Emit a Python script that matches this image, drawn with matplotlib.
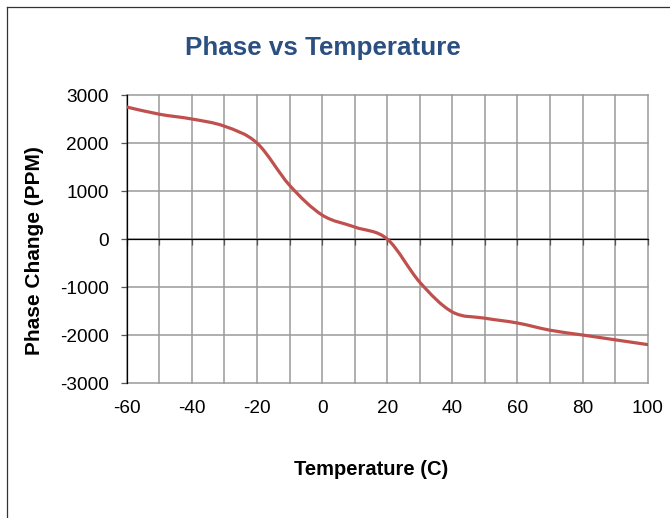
import matplotlib
matplotlib.use("Agg")
import matplotlib.pyplot as plt
from matplotlib.path import Path
from matplotlib.patches import PathPatch
from matplotlib.lines import Line2D
import numpy as np

plt.rcParams['font.family'] = ['Liberation Sans', 'DejaVu Sans']

temps = [-60, -50, -40, -30, -20, -10, 0, 10, 20, 30, 40, 50, 60, 70, 80, 90, 100]
phase = [2750, 2600, 2500, 2350, 2000, 1120, 500, 250, 0, -900, -1520, -1650, -1750, -1900, -2000, -2100, -2200]
x_ticks = [-60, -40, -20, 0, 20, 40, 60, 80, 100]
y_ticks = [-3000, -2000, -1000, 0, 1000, 2000, 3000]
title = "Phase vs Temperature"
xlabel = "Temperature (C)"
ylabel = "Phase Change (PPM)"

W, H = 670, 518
fig = plt.figure(figsize=(W / 100, H / 100), dpi=100)
fig.patch.set_facecolor('white')

# outer frame (top and left visible)
fig.add_artist(Line2D([7 / W, 1.0], [1 - 7 / H, 1 - 7 / H], color='#333333', lw=0.9, transform=fig.transFigure))
fig.add_artist(Line2D([7 / W, 7 / W], [0, 1 - 7 / H], color='#333333', lw=0.9, transform=fig.transFigure))

left, right = 126.7 / W, 647.7 / W
bottom, top = (H - 383) / H, (H - 95) / H
ax = fig.add_axes([left, bottom, right - left, top - bottom])
ax.set_xlim(-60, 100)
ax.set_ylim(-3000, 3000)

# gridlines
grid_c = '#9a9a9a'
for xv in range(-60, 101, 10):
    ax.axvline(xv, color=grid_c, lw=1.1, zorder=1, clip_on=False)
for yv in y_ticks:
    ax.axhline(yv, color=grid_c, lw=1.1, zorder=1, clip_on=False)

# spines
for s in ['top', 'right']:
    ax.spines[s].set_visible(False)
ax.spines['left'].set_color('black')
ax.spines['left'].set_linewidth(0.9)
ax.spines['bottom'].set_position(('data', 0))
ax.spines['bottom'].set_color('black')
ax.spines['bottom'].set_linewidth(0.9)
ax.spines['bottom'].set_zorder(3)

ax.set_xticks(list(range(-60, 101, 10)))
ax.tick_params(axis='x', which='both', direction='out', length=4, width=0.9, color='#555555',
               labelbottom=False)
ax.set_yticks(y_ticks)
ax.set_yticklabels([str(v) for v in y_ticks])
ax.tick_params(axis='y', direction='out', length=4.3, width=0.9, color='#555555', pad=8.5,
               labelsize=13.7)

# x tick labels at bottom of plot area
sec = ax.secondary_xaxis(0)
sec.set_xticks(x_ticks)
sec.set_xticklabels([str(v) for v in x_ticks])
sec.tick_params(length=0, pad=12, labelsize=13.7)
sec.spines['bottom'].set_visible(False)

# smoothed line (Catmull-Rom / Excel-like bezier through data points)
pts = np.column_stack([temps, phase]).astype(float)
n = len(pts)
verts = [tuple(pts[0])]
codes = [Path.MOVETO]
for i in range(n - 1):
    p0 = pts[i - 1] if i > 0 else pts[i]
    p1 = pts[i]
    p2 = pts[i + 1]
    p3 = pts[i + 2] if i + 2 < n else pts[i + 1]
    c1 = p1 + (p2 - p0) / 6.0
    c2 = p2 - (p3 - p1) / 6.0
    verts += [tuple(c1), tuple(c2), tuple(p2)]
    codes += [Path.CURVE4] * 3
path = Path(verts, codes)
ax.add_patch(PathPatch(path, facecolor='none', edgecolor='#C0504D', lw=2.3, zorder=4,
                       capstyle='round', joinstyle='round'))

fig.text(322.5 / W, 1 - 55 / H, title, ha='center', va='baseline', fontsize=18.7,
         fontweight='bold', color='#2B4F81')
fig.text(371 / W, 43 / H, xlabel, ha='center', va='baseline', fontsize=14.5,
         fontweight='bold', color='black')
fig.text(34.5 / W, 1 - 251 / H, ylabel, ha='center', va='center', rotation=90,
         fontsize=15, fontweight='bold', color='black')

fig.savefig('out.png', dpi=100, facecolor='white')
